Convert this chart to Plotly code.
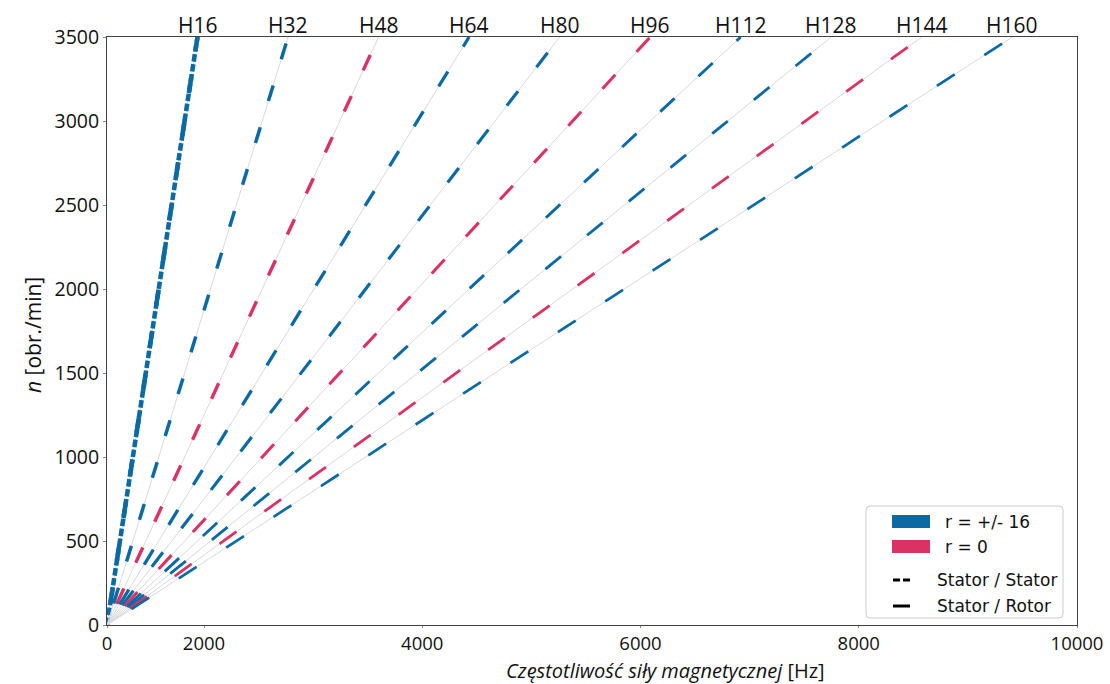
import math
import plotly.graph_objects as go

# ---------------- data ----------------
orders = [16, 32, 48, 64, 80, 96, 112, 128, 144, 160]
order_labels = ["H16", "H32", "H48", "H64", "H80", "H96", "H112", "H128", "H144", "H160"]
# frequency reached by each order line at the top speed (Hz)
freq_at_top = [933, 1867, 2800, 3733, 4667, 5600, 6533, 7467, 8400, 9333]
speed_range = [0, 3500]  # obr./min
r_class = ["+/-16", "+/-16", "0", "+/-16", "+/-16", "0", "+/-16", "+/-16", "0", "+/-16"]
has_stator_stator = [True, False, False, False, False, False, False, False, False, False]

x_tick_vals = [0, 1000, 3250, 5500, 7750, 10000]
x_tick_text = ["0", "2000", "4000", "6000", "8000", "10000"]
y_tick_vals = [0, 500, 1000, 1500, 2000, 2500, 3000, 3500]

# ---------------- style ----------------
W, H = 1110, 684
ML, MR, MT, MB = 107, 33, 37, 59
PW, PH = W - ML - MR, H - MT - MB
XMAX, YMAX = 10000, 3500
BLUE = "#0b6aa3"
PINK = "#db3263"
GREY = "#d9d9d9"
COLORS = {"+/-16": BLUE, "0": PINK}
FONT = "Open Sans"
S = 1.6  # anisotropy of the reference drawing

fig = go.Figure()

for i, h in enumerate(orders):
    fx = freq_at_top[i]
    xs = [0, fx]
    ys = speed_range
    fig.add_trace(go.Scatter(x=xs, y=ys, mode="lines",
                             line=dict(color=GREY, width=1),
                             hoverinfo="skip", showlegend=False))
    dxp = fx / XMAX * PW
    dyp = (ys[1] - ys[0]) / YMAX * PH
    k = math.hypot(dxp, dyp) / math.hypot(dxp / S, dyp)
    width = 2.25 * S / k
    a, d, b = 22 * k, 16 * k, 4.7 * k
    dash = f"0px,{a:.1f}px,{d:.1f}px,{b:.1f}px"
    col = COLORS[r_class[i]]
    if has_stator_stator[i]:
        fig.add_trace(go.Scatter(x=xs, y=ys, mode="lines",
                                 line=dict(color=col, width=width + 1.0, dash="7.5px,2.5px"),
                                 hoverinfo="skip", showlegend=False))
        width += 1.0
    fig.add_trace(go.Scatter(x=xs, y=ys, mode="lines",
                             line=dict(color=col, width=width, dash=dash),
                             hoverinfo="skip", showlegend=False))

annotations = []
for i, lab in enumerate(order_labels):
    annotations.append(dict(x=freq_at_top[i], y=speed_range[1], xref="x", yref="y",
                            text=lab, showarrow=False, yanchor="bottom", yshift=-4,
                            font=dict(family=FONT, size=21, color="#111")))


def px(xp):
    return (xp - ML) / PW


def py(yp):
    return (H - MB - yp) / PH


annotations.append(dict(x=px(665), y=py(670), xref="paper", yref="paper",
                        text="<i>Częstotliwość siły magnetycznej</i> [Hz]", showarrow=False,
                        xanchor="center", yanchor="middle", borderpad=0,
                        font=dict(family=FONT, size=20, color="#111")))
annotations.append(dict(x=px(33), y=py(335), xref="paper", yref="paper",
                        text="<i>n</i> [obr./min]", showarrow=False, textangle=-90,
                        xanchor="center", yanchor="middle",
                        font=dict(family=FONT, size=21, color="#111")))

# manual legend
LFONT = "DejaVu Sans"
shapes = []
x0, x1, y0, y1, r = 866, 1063, 506, 618, 4
rx, ry = r / PW, r / PH
X0, X1, Y0, Y1 = px(x0), px(x1), py(y0), py(y1)
path = (f"M {X0+rx},{Y0} L {X1-rx},{Y0} Q {X1},{Y0} {X1},{Y0-ry} "
        f"L {X1},{Y1+ry} Q {X1},{Y1} {X1-rx},{Y1} L {X0+rx},{Y1} "
        f"Q {X0},{Y1} {X0},{Y1+ry} L {X0},{Y0-ry} Q {X0},{Y0} {X0+rx},{Y0} Z")
shapes.append(dict(type="path", path=path, xref="paper", yref="paper",
                   line=dict(color="#cccccc", width=1), fillcolor="white", layer="above"))
shapes.append(dict(type="rect", xref="paper", yref="paper", x0=px(892), x1=px(930),
                   y0=py(515), y1=py(528), fillcolor=BLUE, line=dict(width=0), layer="above"))
shapes.append(dict(type="rect", xref="paper", yref="paper", x0=px(892), x1=px(930),
                   y0=py(540), y1=py(553), fillcolor=PINK, line=dict(width=0), layer="above"))
for xa, xb in [(893, 900), (903, 910)]:
    shapes.append(dict(type="line", xref="paper", yref="paper", x0=px(xa), x1=px(xb),
                       y0=py(580), y1=py(580), line=dict(color="black", width=3), layer="above"))
shapes.append(dict(type="line", xref="paper", yref="paper", x0=px(893), x1=px(910),
                   y0=py(606), y1=py(606), line=dict(color="black", width=3), layer="above"))
for txt, xx, yy in [("r = +/- 16", 943, 522), ("r = 0", 943, 547),
                    ("Stator / Stator", 935, 580), ("Stator / Rotor", 935, 606)]:
    annotations.append(dict(x=px(xx), y=py(yy), xref="paper", yref="paper", text=txt,
                            showarrow=False, xanchor="left", yanchor="middle",
                            font=dict(family=LFONT, size=17, color="#111")))

axis_common = dict(showgrid=False, zeroline=False, showline=True, mirror=True,
                   linecolor="#404040", linewidth=1, ticks="outside", ticklen=3,
                   tickcolor="#888", automargin=False,
                   tickfont=dict(family=FONT, size=19.5, color="#111"))

fig.update_layout(
    width=W, height=H,
    margin=dict(l=ML, r=MR, t=MT, b=MB, autoexpand=False),
    paper_bgcolor="white", plot_bgcolor="white",
    xaxis=dict(range=[0, XMAX], tickmode="array", tickvals=x_tick_vals,
               ticktext=x_tick_text, **{**axis_common, "ticklen": 2,
                                        "tickfont": dict(family=FONT, size=18.5, color="#111")}),
    yaxis=dict(range=[0, YMAX], tickmode="array", tickvals=y_tick_vals, **axis_common),
    annotations=annotations, shapes=shapes, showlegend=False,
)

fig.write_html("out.html")
